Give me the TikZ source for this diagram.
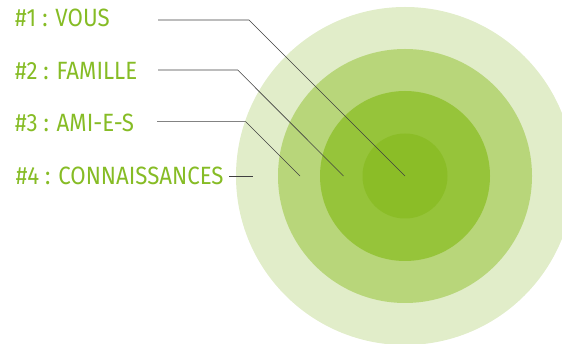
\documentclass[tikz,border=0pt]{standalone}
\usepackage{fontspec}
\setmainfont[FakeStretch=0.89]{Fira Sans}
\definecolor{ring1}{HTML}{E1EDC9}
\definecolor{ring2}{HTML}{B8D67A}
\definecolor{ring3}{HTML}{96C43A}
\definecolor{ring4}{HTML}{8BBD27}
\definecolor{txt}{HTML}{86BC25}
\tikzset{
  lbl/.style={anchor=base west, inner sep=0pt, text=txt, font=\fontsize{25}{27}\selectfont},
  lead/.style={draw=black!75, line width=0.6pt},
}
\begin{document}
\begin{tikzpicture}[x=1pt,y=-1pt]
\useasboundingbox (0,0) rectangle (562,344);
\clip (0,0) rectangle (562,344);
\coordinate (c) at (405,176);
\fill[ring1] (c) circle (169);
\fill[ring2] (c) circle (127);
\fill[ring3] (c) circle (85);
\fill[ring4] (c) circle (42.5);
\node[lbl] (l1) at (15,26.7) {\#1 : VOUS};
\node[lbl] (l2) at (15,80) {\#2 : FAMILLE};
\node[lbl] (l3) at (15,131.7) {\#3 : AMI-E-S};
\node[lbl] (l4) at (15.7,184.3) {\#4 : CONNAISSANCES};
\coordinate (a1) at (158,20);
\coordinate (b1) at (249,20);
\coordinate (a2) at (158,70);
\coordinate (b2) at (237.7,70);
\coordinate (e2) at (343.5,176);
\coordinate (a3) at (157,121.7);
\coordinate (b3) at (245.7,121.7);
\coordinate (e3) at (300,176);
\coordinate (a4) at (229,176);
\coordinate (e4) at (253,176);
\draw[lead] (a1) -- (b1) -- (c);
\draw[lead] (a2) -- (b2) -- (e2);
\draw[lead] (a3) -- (b3) -- (e3);
\draw[lead] (a4) -- (e4);
\end{tikzpicture}
\end{document}
